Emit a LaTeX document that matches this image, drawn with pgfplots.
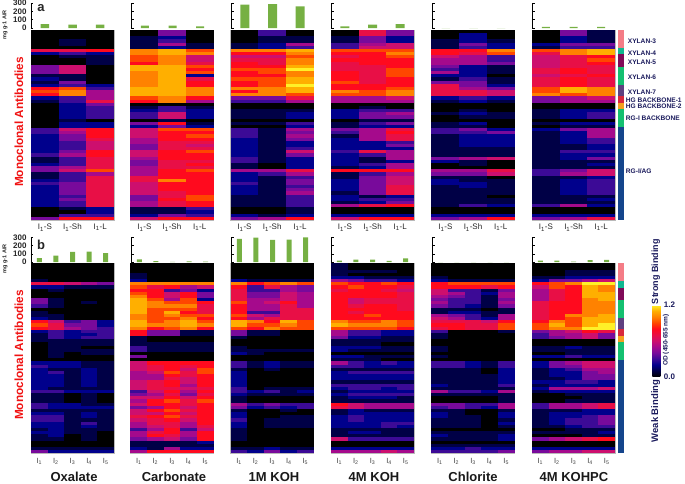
\documentclass[border=0pt]{standalone}
\usepackage{pgfplots}
\usepackage{pgfplotstable}
\pgfplotsset{compat=1.18}
\usepackage{fontspec}
\setmainfont{Liberation Sans}
\newcommand\fs[1]{\fontsize{#1}{#1}\selectfont}
\definecolor{barg}{HTML}{76B043}
\definecolor{labnavy}{HTML}{1A1A5C}
\definecolor{redlab}{HTML}{F01212}
\pgfdeclareplotmark{cellT}{\pgfpathrectangle{\pgfqpoint{-13.9pt}{-1.66pt}}{\pgfqpoint{27.8pt}{3.32pt}}\pgfusepathqfill}
\pgfdeclareplotmark{cellB}{\pgfpathrectangle{\pgfqpoint{-8.35pt}{-1.66pt}}{\pgfqpoint{16.7pt}{3.32pt}}\pgfusepathqfill}
\pgfplotsset{
 colormap={od}{rgb255(0cm)=(0,0,0); rgb255(1cm)=(0,0,70); rgb255(2cm)=(0,0,140); rgb255(3cm)=(60,10,150); rgb255(4cm)=(120,10,155); rgb255(5cm)=(165,10,140); rgb255(6cm)=(205,15,110); rgb255(7cm)=(232,15,70); rgb255(8cm)=(255,10,30); rgb255(9cm)=(255,70,0); rgb255(10cm)=(255,130,0); rgb255(11cm)=(255,175,0); rgb255(12cm)=(255,240,40);},
 heat/.style={scale only axis, width=83pt, height=190pt, anchor=north west, y dir=reverse,
  ymin=-0.5, ymax=59.5, ytick=\empty, point meta min=0, point meta max=12, colormap name=od,
  axis on top, axis line style={gray!55, line width=0.5pt}, major tick length=0pt,
  xticklabel style={font=\fs{8}, text=black!85, yshift=-0.5pt}},
 bars/.style={scale only axis, width=83pt, anchor=north west, ymin=0, ymax=300,
  axis x line=none, axis y line=left, y axis line style={-, line width=0.9pt}, ytick={0,100,200,300},
  tick align=inside, major tick length=2.5pt, y tick style={black, line width=0.7pt},
  ybar, bar width=8.5pt, yticklabels={}, xtick=\empty},
 barlab/.style={yticklabels={0,100,200,300}, yticklabel style={font=\bfseries\fs{8}, text=black!85, xshift=-1pt}},
}
\newcommand\heatT[2]{%
\begin{axis}[heat, at={(#1pt,-30pt)}, xmin=-0.5, xmax=2.5, xtick={0,1,2},
 xticklabels={I\textsubscript{1}-S,I\textsubscript{1}-Sh,I\textsubscript{1}-L}]
\pgfplotsinvokeforeach{0,1,2}{\addplot[scatter, only marks, mark=cellT, scatter src=explicit] table[x expr=##1, y expr=\coordindex, meta index=##1]{#2};}
\end{axis}}
\newcommand\heatB[3][]{%
\begin{axis}[heat, at={(#2pt,-263.3pt)}, xmin=-0.5, xmax=4.5, xtick={0,1,2,3,4},
 xticklabels={I\textsubscript{1},I\textsubscript{2},I\textsubscript{3},I\textsubscript{4},I\textsubscript{5}}, xticklabel style={font=\fs{7.5}, text=black!75, yshift=-1pt}, #1]
\pgfplotsinvokeforeach{0,1,2,3,4}{\addplot[scatter, only marks, mark=cellB, scatter src=explicit] table[x expr=##1, y expr=\coordindex, meta index=##1]{#3};}
\end{axis}}
\newcommand\barT[3][]{%
\begin{axis}[bars, height=25pt, at={(#2pt,-3pt)}, xmin=-0.5, xmax=2.5, #1]
\addplot[fill=barg, draw=none] coordinates {#3};
\end{axis}}
\newcommand\barB[3][]{%
\begin{axis}[bars, height=24.7pt, at={(#2pt,-237.5pt)}, xmin=-0.5, xmax=4.5, bar width=5pt, #1]
\addplot[fill=barg, draw=none] coordinates {#3};
\end{axis}}

% top panels: OD x 10, rows top to bottom, columns I1-S I1-Sh I1-L
\pgfplotstableread[header=false]{
0 0 0
0 0 0
0 0 0
0 1 0
0 1 0
0 0 0
7 7 8
2 3 2
0 1 1
0 0 1
0 0 1
4 6 0
4 6 0
4 6 0
1 1 0
2 1 0
1 4 0
2 3 2
8 9 3
9 10 5
8 10 5
2 3 5
1 3 7
0 2 4
0 2 3
0 2 3
0 2 3
0 2 3
0 1 0
0 2 2
0 2 2
3 6 8
3 5 8
2 4 8
2 4 7
2 3 6
2 3 6
2 3 6
2 4 8
3 5 8
1 3 7
1 3 7
2 3 7
4 5 7
4 6 9
1 3 5
1 3 7
2 3 7
3 4 7
2 4 7
2 4 7
2 4 7
2 3 7
2 4 7
2 3 7
2 3 7
0 1 2
0 0 2
0 3 3
4 8 8
}\tTa
\pgfplotstableread[header=false]{
0 4 0
0 4 0
1 2 0
1 3 0
1 5 1
1 2 1
10 11 9
10 11 10
9 10 6
9 10 6
8 10 7
11 11 9
11 11 8
10 11 9
10 11 2
10 11 7
10 11 8
10 11 8
11 11 10
11 11 10
11 11 10
9 10 8
8 10 5
0 0 0
1 3 1
2 3 2
3 6 2
3 6 2
0 1 0
4 8 1
2 4 2
6 9 9
6 8 8
6 8 9
5 8 8
5 7 7
4 7 6
4 7 7
6 8 9
6 8 8
5 8 8
4 7 7
4 7 8
5 7 7
5 8 9
5 8 8
7 8 8
7 10 8
6 8 8
6 8 8
6 8 8
6 7 8
4 7 9
4 8 9
5 7 8
5 7 8
1 1 3
1 1 2
2 4 3
6 8 8
}\tTb
\pgfplotstableread[header=false]{
0 3 0
0 3 0
0 1 1
0 1 1
1 2 5
1 2 3
10 10 11
8 8 10
6 6 9
7 7 10
8 7 10
8 8 11
9 9 12
8 9 10
8 8 10
9 9 11
8 9 11
8 9 12
10 10 11
8 10 11
10 10 9
4 4 7
3 3 5
0 0 0
0 0 0
1 1 1
1 1 2
1 1 2
0 0 0
1 1 3
0 0 2
3 1 5
3 1 4
3 1 5
2 1 4
2 1 2
2 1 2
2 1 3
2 1 6
2 1 4
3 1 2
3 1 2
1 0 2
1 0 2
5 5 7
2 3 5
2 1 3
2 1 4
3 1 4
2 1 3
2 1 4
2 1 5
1 1 3
1 1 3
1 1 3
1 1 3
0 0 1
0 0 1
2 1 2
4 5 8
}\tTc
\pgfplotstableread[header=false]{
0 7 4
0 7 4
1 4 2
1 4 2
3 5 6
3 6 6
9 9 9
8 8 10
7 8 9
8 8 8
7 8 8
7 7 8
7 7 9
8 7 9
8 7 9
8 7 8
9 7 8
8 8 8
8 8 9
10 9 10
9 9 10
5 5 6
5 5 5
0 0 0
0 1 0
2 3 3
2 4 5
2 4 4
0 1 1
1 3 4
1 2 2
4 5 7
3 5 8
1 5 7
2 5 7
2 2 3
2 2 4
2 2 2
3 7 5
2 3 5
2 1 5
2 1 2
2 3 5
1 2 5
8 8 8
1 3 5
1 4 6
2 4 6
2 4 6
2 4 7
2 4 7
1 4 7
2 1 2
2 3 3
1 2 4
5 7 8
0 0 0
0 0 0
2 2 2
6 8 8
}\tTd
\pgfplotstableread[header=false]{
0 0 0
0 2 0
0 2 0
1 2 1
1 4 2
1 3 2
8 8 10
8 7 9
6 5 3
5 5 3
5 5 4
4 2 1
3 2 1
5 2 1
2 2 0
1 3 1
4 4 1
7 4 2
7 5 4
7 7 6
7 7 6
2 3 2
1 2 1
0 0 0
0 0 0
0 1 0
1 2 1
0 1 1
0 0 0
1 2 0
1 1 0
3 4 2
3 3 4
1 2 2
1 2 2
1 2 2
1 2 2
1 1 1
1 1 1
1 1 1
4 5 6
2 1 0
0 1 0
0 0 0
5 5 7
4 4 6
1 1 0
2 1 1
2 2 1
1 2 1
1 1 1
1 1 1
1 1 0
1 1 1
1 1 1
1 3 2
0 0 0
0 0 0
2 2 2
4 5 8
}\tTe
\pgfplotstableread[header=false]{
0 4 1
0 4 1
0 2 1
0 2 1
2 4 4
1 3 3
9 10 11
7 10 11
6 7 8
6 7 9
6 7 8
6 7 7
7 8 7
7 8 7
6 7 8
7 8 7
7 8 7
7 8 7
9 11 10
9 11 10
10 9 10
4 5 6
4 5 5
0 0 0
0 0 0
1 2 2
1 2 3
1 2 3
0 0 0
1 2 2
0 1 1
2 4 5
1 2 5
1 2 5
1 2 3
1 2 3
1 1 2
1 1 2
1 3 3
1 2 2
1 2 4
1 1 1
1 1 2
1 1 1
3 4 6
3 5 6
1 1 2
1 2 3
1 2 3
1 2 3
1 2 3
1 2 3
1 1 1
1 1 2
1 1 1
3 5 2
0 0 0
0 0 0
2 2 2
4 5 7
}\tTf

% bottom panels: OD x 10, columns I1..I5
\pgfplotstableread[header=false]{
0 0 0 0 0
0 0 0 0 0
0 0 0 0 0
0 0 0 0 0
0 0 0 0 0
1 0 0 0 0
7 7 6 5 4
2 2 1 1 1
0 1 0 0 0
0 0 0 0 0
0 0 0 0 0
4 1 0 0 0
4 1 0 1 0
3 1 0 0 0
0 0 0 0 0
1 0 0 0 0
1 1 0 0 0
2 1 0 0 0
8 6 3 4 2
9 7 4 4 2
8 7 5 4 3
2 3 2 3 3
1 3 2 2 3
1 3 2 3 3
1 1 1 1 1
0 1 1 1 1
0 1 1 0 0
0 1 1 1 1
0 1 0 1 1
0 1 0 0 0
0 0 0 0 0
2 2 2 1 1
3 2 2 1 1
2 1 1 2 1
2 3 1 2 1
2 2 1 2 1
2 2 1 2 1
2 2 1 2 1
2 2 1 2 1
2 1 1 1 1
3 3 2 2 2
1 1 0 1 0
1 1 0 1 0
1 1 0 1 0
3 2 2 1 1
3 2 2 2 2
1 1 1 1 1
2 2 1 2 1
3 3 1 2 1
3 3 1 1 1
2 2 1 3 1
2 2 1 2 1
1 2 1 1 1
2 2 1 1 0
1 2 0 1 0
1 1 0 1 0
0 0 0 0 0
0 0 0 0 0
1 1 1 1 1
4 2 2 2 2
}\tBa
\pgfplotstableread[header=false]{
0 0 0 0 0
0 0 0 0 0
0 0 0 0 0
1 0 0 0 0
1 0 0 0 0
2 0 0 0 0
10 10 10 10 10
9 7 8 5 6
8 8 3 4 2
9 8 6 8 4
10 8 6 8 4
11 9 5 9 2
11 10 9 9 8
11 10 10 10 7
11 9 9 9 7
11 9 11 8 7
10 9 10 9 9
10 9 9 10 8
11 9 10 11 9
11 10 10 11 10
10 8 9 10 8
8 4 4 1 1
8 4 4 1 1
1 0 0 0 0
1 0 0 0 0
1 1 1 1 1
3 1 1 1 1
3 1 1 1 1
0 0 0 0 0
4 0 0 0 0
0 0 0 0 0
6 8 8 8 8
6 7 8 7 8
6 7 8 6 9
5 6 9 7 9
5 5 8 7 8
5 5 7 6 8
6 7 8 6 8
6 7 8 5 8
6 7 7 6 7
3 6 8 5 8
4 5 7 4 7
6 6 8 6 8
5 8 9 7 9
6 8 8 7 8
4 5 8 6 8
6 8 9 7 8
6 6 8 6 8
7 8 9 7 8
6 7 8 6 8
5 7 7 5 8
5 6 7 5 7
3 5 8 3 6
5 7 8 5 8
5 8 7 5 8
4 5 6 4 8
1 1 1 1 2
1 1 1 1 1
2 1 5 2 2
5 8 8 8 8
}\tBb
\pgfplotstableread[header=false]{
0 0 0 0 0
0 0 0 0 0
0 0 0 0 0
0 0 0 0 0
0 0 0 0 0
2 1 1 1 1
10 8 9 10 9
8 3 7 5 4
7 3 3 5 4
7 4 4 6 5
7 4 4 6 5
7 5 5 6 5
9 5 6 8 5
8 5 5 7 5
8 5 5 7 7
8 3 3 7 7
9 6 5 7 7
8 5 7 7 7
11 10 8 11 9
11 9 9 10 9
9 8 10 9 9
4 1 1 0 0
4 1 1 0 0
1 0 0 0 0
0 0 0 0 0
0 0 0 0 0
1 0 0 0 0
1 1 1 1 1
2 1 0 0 0
0 0 0 0 0
0 0 0 0 0
3 1 2 1 1
3 1 2 1 1
1 0 1 0 0
2 0 0 0 0
2 0 0 0 0
2 0 0 0 0
2 0 0 0 0
2 0 0 0 0
3 0 1 1 1
3 2 3 1 2
2 1 1 1 1
1 0 0 0 0
1 0 0 0 0
5 3 4 3 3
4 2 3 2 3
1 0 0 1 0
2 0 0 0 0
2 0 0 1 1
3 0 1 1 1
2 0 1 1 1
2 0 1 1 1
1 0 0 0 0
1 0 0 0 0
1 0 0 0 0
1 0 0 0 0
0 0 0 0 0
0 0 0 0 0
1 1 2 1 1
3 2 4 2 3
}\tBc
\pgfplotstableread[header=false]{
1 0 0 0 0
1 0 0 0 0
1 1 1 1 0
1 0 0 0 0
2 2 1 1 1
5 4 3 3 2
9 8 8 9 8
8 9 8 8 7
7 8 8 7 6
8 8 8 8 7
8 8 8 8 7
8 6 7 7 7
8 6 7 7 7
8 7 8 8 7
8 8 8 8 7
8 7 8 8 8
8 8 9 8 8
8 8 8 8 8
10 9 9 10 9
11 10 10 10 9
9 9 9 9 8
5 3 3 2 2
5 3 3 2 2
4 2 2 1 1
1 1 1 1 1
1 1 1 0 0
2 2 2 1 1
2 1 1 1 1
0 0 0 0 0
2 2 1 1 1
1 1 1 0 0
5 3 2 3 2
3 3 2 2 2
1 1 1 1 1
2 3 3 3 3
2 2 2 2 2
2 2 2 2 2
1 1 1 1 1
3 3 3 3 3
2 3 3 2 3
1 2 2 2 2
2 3 3 3 3
1 2 2 2 1
1 1 1 1 1
8 6 5 5 5
7 6 5 5 5
1 2 1 1 1
1 2 2 2 2
2 3 2 2 2
2 3 2 2 2
2 2 2 3 3
2 2 2 3 2
1 1 1 1 1
1 2 2 1 1
1 1 1 1 1
6 3 3 3 3
0 0 0 0 0
0 0 0 0 0
2 2 2 2 2
5 5 5 6 5
}\tBd
\pgfplotstableread[header=false]{
0 0 0 0 0
0 0 0 0 0
0 0 0 0 0
0 0 0 0 0
1 0 0 0 0
2 1 1 1 1
8 9 9 9 9
8 8 8 7 8
6 3 3 1 4
6 5 3 2 5
5 4 3 1 5
4 3 3 1 4
5 3 3 1 5
4 3 2 1 4
1 1 1 0 1
1 2 2 1 1
5 4 3 1 5
6 5 3 2 5
7 7 7 6 8
8 8 7 7 9
7 8 7 7 9
3 0 0 0 1
1 0 0 0 0
1 0 0 0 0
0 0 0 0 0
0 0 0 0 0
1 0 0 0 0
1 0 0 0 0
0 0 0 0 0
1 0 0 0 0
0 0 0 0 0
3 3 2 1 3
3 3 2 1 3
1 1 1 0 2
1 1 1 0 2
1 1 1 1 2
1 1 1 1 2
1 1 1 1 2
2 1 1 1 3
1 1 1 1 1
5 3 3 2 5
1 1 1 1 1
0 0 0 0 1
0 0 0 0 1
4 4 3 3 5
3 4 3 2 5
1 1 0 0 1
2 1 0 0 2
2 1 1 0 2
1 1 1 0 1
1 1 1 0 2
1 1 1 0 1
0 0 0 0 0
1 1 1 1 1
2 1 1 1 2
1 1 1 1 2
0 0 0 0 0
1 1 1 1 1
2 2 3 2 2
3 3 3 3 4
}\tBe
\pgfplotstableread[header=false]{
0 0 0 0 0
0 0 0 0 0
0 0 1 1 1
0 0 1 1 1
1 1 2 2 2
2 4 4 5 6
8 9 10 12 12
6 9 8 11 10
5 7 8 11 10
5 7 8 11 11
5 7 8 11 11
5 7 8 10 11
7 8 8 10 10
7 8 8 10 10
7 8 8 10 10
7 8 8 10 10
7 8 10 10 11
7 8 9 11 11
8 10 9 11 11
9 11 9 11 12
9 10 10 12 12
4 5 6 8 7
3 5 5 6 4
3 4 5 6 4
0 0 0 0 0
0 0 0 0 0
1 1 2 1 1
1 1 1 1 1
0 0 1 1 1
2 2 3 2 2
0 0 0 0 0
2 4 5 6 6
2 4 4 6 6
1 2 3 5 5
1 2 2 4 5
1 2 2 4 4
1 1 2 4 4
2 2 3 3 2
1 2 2 2 2
2 5 5 5 6
1 2 2 2 2
0 0 1 1 1
0 0 0 1 1
0 0 1 1 1
3 5 5 6 7
3 5 5 6 7
1 1 1 2 2
1 2 2 2 2
1 2 2 3 4
1 2 3 3 4
1 2 3 3 4
1 1 2 3 3
0 0 1 1 1
1 1 1 1 2
0 0 0 1 1
4 5 6 7 8
0 0 0 0 0
0 0 0 0 0
2 2 2 2 2
4 5 5 6 6
}\tBf

\begin{document}
\begin{tikzpicture}
\useasboundingbox (0,0) rectangle (685pt,-483pt);

\barT[barlab]{31}{(0,48)(1,40)(2,40)}
\barT[bar width=8pt]{131}{(0,28)(1,28)(2,20)}
\barT[bar width=9pt]{231}{(0,280)(1,288)(2,260)}
\barT[bar width=9pt]{331}{(0,20)(1,40)(2,48)}
\barT{432}{(0,0)(1,0)(2,0)}
\barT[bar width=8pt]{532}{(0,15)(1,15)(2,15)}

\heatT{31}{\tTa}
\heatT{130.5}{\tTb}
\heatT{230.7}{\tTc}
\heatT{331}{\tTd}
\heatT{431.5}{\tTe}
\heatT{532}{\tTf}

\barB[barlab]{31}{(0,50)(1,80)(2,125)(3,130)(4,110)}
\barB{131}{(0,35)(1,12)(2,5)(3,10)(4,8)}
\barB{231}{(0,282)(1,298)(2,270)(3,273)(4,302)}
\barB{331}{(0,20)(1,32)(2,32)(3,16)(4,48)}
\barB{432}{(0,0)(1,0)(2,0)(3,0)(4,0)}
\barB{532}{(0,20)(1,20)(2,8)(3,24)(4,28)}

\heatB{31}{\tBa}
\heatB{130.5}{\tBb}
\heatB{230.7}{\tBc}
\heatB{331}{\tBd}
\heatB{431.5}{\tBe}
\heatB[colorbar, colorbar style={at={(1.4494,0.7805)}, anchor=north west, width=8pt, height=71.7pt, ytick={0,12}, yticklabels={0.0,1.2}, major tick length=0pt, yticklabel style={font=\bfseries\fs{8}, text=labnavy}, axis line style={draw=none}}]{532}{\tBf}

% group strip
\foreach \ytop/\ybot/\c in {{0}/{5.7}/F47C86, {5.7}/{7.7}/10B890, {7.7}/{11.6}/800A58, {11.6}/{17.3}/14C070, {17.3}/{20.8}/5F4080, {20.8}/{22.9}/D8283C, {22.9}/{24.9}/F5A020, {24.9}/{30.6}/14C070, {30.6}/{60}/15458C}{
  \definecolor{tmpc}{HTML}{\c}
  \fill[tmpc] (617.5pt,{-(30+3.1667*\ytop)*1pt}) rectangle (624.3pt,{-(30+3.1667*\ybot)*1pt});
  \fill[tmpc] (617.5pt,{-(263.3+3.1667*\ytop)*1pt}) rectangle (624.3pt,{-(263.3+3.1667*\ybot)*1pt});
}
% group labels
\begin{scope}[every node/.style={font=\bfseries\fs{6.6}, text=labnavy, anchor=west, inner sep=0pt}]
\node at (627.7pt,-41.7pt) {XYLAN-3};
\node at (627.7pt,-53.7pt) {XYLAN-4};
\node at (627.7pt,-62.7pt) {XYLAN-5};
\node at (627.7pt,-77pt) {XYLAN-6};
\node at (627.7pt,-92pt) {XYLAN-7};
\node at (625.7pt,-100pt) {HG BACKBONE-1};
\node at (625.7pt,-106pt) {HG BACKBONE-2};
\node at (625.7pt,-118pt) {RG-I BACKBONE};
\node at (625.7pt,-171pt) {RG-I/AG};
\end{scope}

\node[font=\bfseries\fs{11.8}, text=redlab, rotate=90, inner sep=0pt] at (19pt,-122pt) {Monoclonal Antibodies};
\node[font=\bfseries\fs{11.8}, text=redlab, rotate=90, inner sep=0pt] at (19pt,-355pt) {Monoclonal Antibodies};
\node[font=\bfseries\fs{5.5}, text=black!85, rotate=90, inner sep=0pt] at (5pt,-25pt) {mg g-1 AIR};
\node[font=\bfseries\fs{5.5}, text=black!85, rotate=90, inner sep=0pt] at (5pt,-259pt) {mg g-1 AIR};
\node[font=\fs{13}, text=black!85, inner sep=0pt] at (41pt,-8pt) {\textbf{a}};
\node[font=\fs{13}, text=black!85, inner sep=0pt] at (41pt,-245pt) {\textbf{b}};

\begin{scope}[every node/.style={font=\bfseries\fs{13}, text=black!90, inner sep=0pt}]
\node at (74pt,-477pt) {Oxalate};
\node at (174pt,-477pt) {Carbonate};
\node at (274pt,-477pt) {1M KOH};
\node at (374pt,-477pt) {4M KOH};
\node at (473pt,-477pt) {Chlorite};
\node at (574pt,-477pt) {4M KOHPC};
\end{scope}

\node[font=\bfseries\fs{9}, text=labnavy, rotate=90, inner sep=0pt] at (655.7pt,-271.5pt) {Strong Binding};
\node[font=\bfseries\fs{9.5}, text=labnavy, rotate=90, inner sep=0pt] at (655.7pt,-411pt) {Weak Binding};
\node[font=\bfseries\fs{6.5}, text=labnavy, rotate=90, inner sep=0pt] at (666pt,-340pt) {OD (450-655 nm)};
\end{tikzpicture}
\end{document}
